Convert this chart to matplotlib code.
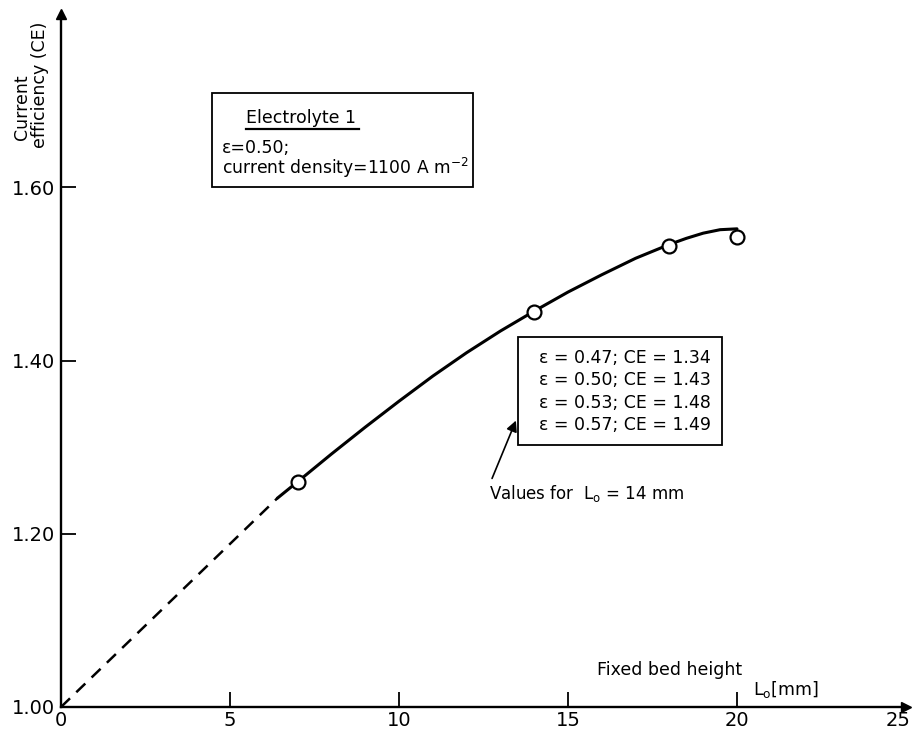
import numpy as np
import matplotlib
matplotlib.use("Agg")
import matplotlib.pyplot as plt
from matplotlib.patches import Rectangle
from matplotlib.transforms import ScaledTranslation

# ---------------------------------------------------------------
# datos
# ---------------------------------------------------------------
lo_mm = [7, 14, 18, 20]                 # puntos medidos
ce_medida = [1.260, 1.456, 1.532, 1.543]

# curva dibujada a mano (tramo continuo), leída punto a punto
curva_x = [6.4, 7, 8, 9, 10, 11, 12, 13, 14, 15, 16, 17, 18, 18.5, 19, 19.5, 20]
curva_y = [1.241, 1.260, 1.292, 1.323, 1.353, 1.382, 1.409, 1.434, 1.457,
           1.479, 1.499, 1.518, 1.534, 1.541, 1.547, 1.551, 1.552]

# extrapolación discontinua hasta el origen
extrap_x = [0, 6.4]
extrap_y = [1.00, 1.241]

xticks = [0, 5, 10, 15, 20, 25]
yticks = [1.00, 1.20, 1.40, 1.60]
ytick_labels = ["1.00", "1.20", "1.40", "1.60"]

valores_lo14 = [
    "ε = 0.47; CE = 1.34",
    "ε = 0.50; CE = 1.43",
    "ε = 0.53; CE = 1.48",
    "ε = 0.57; CE = 1.49",
]

# ---------------------------------------------------------------
W, H = 913, 731
plt.rcParams['font.family'] = ['DejaVu Sans']
plt.rcParams['mathtext.fontset'] = 'custom'
plt.rcParams['mathtext.rm'] = 'DejaVu Sans'

fig = plt.figure(figsize=(W / 100, H / 100), dpi=100)


def fx(px):
    return px / W


def fy(py):
    return 1 - py / H


ax = fig.add_axes([fx(61), fy(707), fx(906) - fx(61), fy(14) - fy(707)])
ax.set_xlim(0, 25)
ax.set_ylim(1.0, 1.8)
ax.patch.set_alpha(0)

for s in ['top', 'right']:
    ax.spines[s].set_visible(False)
for s in ['left', 'bottom']:
    ax.spines[s].set_linewidth(1.7)

# flechas de los ejes
ax.plot(1, 0, ">k", transform=ax.transAxes, clip_on=False, markersize=7)
ax.plot(0, 1, "^k", transform=ax.transAxes, clip_on=False, markersize=7)

ax.set_xticks(xticks)
ax.set_xticklabels([str(t) for t in xticks])
ax.set_yticks(yticks)
ax.set_yticklabels(ytick_labels)
ax.tick_params(direction='in', length=11, width=1.3, labelsize=14, pad=4)
ax.tick_params(axis='x', pad=3)
ax.xaxis.get_major_ticks()[0].tick1line.set_visible(False)
ax.xaxis.get_major_ticks()[-1].tick1line.set_visible(False)
ax.yaxis.get_major_ticks()[0].tick1line.set_visible(False)
# el "25" queda pegado al borde derecho
ultima = ax.get_xticklabels()[-1]
ultima.set_transform(ultima.get_transform() + ScaledTranslation(-8 / 100, 0, fig.dpi_scale_trans))

# curva y puntos
ax.plot(extrap_x, extrap_y, color='black', lw=1.8, ls=(0, (5, 3.5)))
ax.plot(curva_x, curva_y, color='black', lw=2.2, solid_capstyle='round', solid_joinstyle='round')
ax.plot(lo_mm, ce_medida, 'o', ms=10, mfc='white', mec='black', mew=1.6, zorder=5)

# etiquetas de ejes
fig.text(fx(22), fy(140), "Current", rotation=90, ha='center', va='bottom', fontsize=12.5)
fig.text(fx(40), fy(148), "efficiency (CE)", rotation=90, ha='center', va='bottom', fontsize=12.5)
fig.text(fx(597), fy(670), "Fixed bed height", ha='left', va='center', fontsize=12.5)
fig.text(fx(753), fy(690), r"L$_\mathrm{o}$[mm]", ha='left', va='center', fontsize=12.5)

# recuadro Electrolyte 1
fig.patches.append(Rectangle((fx(212), fy(187)), fx(473) - fx(212), fy(93) - fy(187),
                             transform=fig.transFigure, fill=False, ec='black', lw=1.3))
fig.text(fx(246), fy(118), "Electrolyte 1", ha='left', va='center', fontsize=12.5)
fig.lines.append(plt.Line2D([fx(246), fx(359)], [fy(129), fy(129)],
                            transform=fig.transFigure, color='black', lw=1.6))
fig.text(fx(222), fy(148), "ε=0.50;", ha='left', va='center', fontsize=12.5)
fig.text(fx(222), fy(168), r"current density=1100 A m$^{-2}$", ha='left', va='center', fontsize=12.3)

# recuadro valores para Lo = 14 mm
fig.patches.append(Rectangle((fx(518), fy(445)), fx(722) - fx(518), fy(337) - fy(445),
                             transform=fig.transFigure, fill=False, ec='black', lw=1.3))
for i, linea in enumerate(valores_lo14):
    fig.text(fx(711), fy(358 + 22.3 * i), linea, ha='right', va='center', fontsize=12.5)

fig.text(fx(489), fy(493), r"Values for  L$_\mathrm{o}$ = 14 mm", ha='left', va='center', fontsize=12)
ax.annotate("", xy=(fx(517), fy(418)), xytext=(fx(491), fy(481)),
            xycoords='figure fraction', textcoords='figure fraction',
            arrowprops=dict(arrowstyle='-|>', color='black', lw=1.2, mutation_scale=16))

fig.savefig("out.png", dpi=100)
